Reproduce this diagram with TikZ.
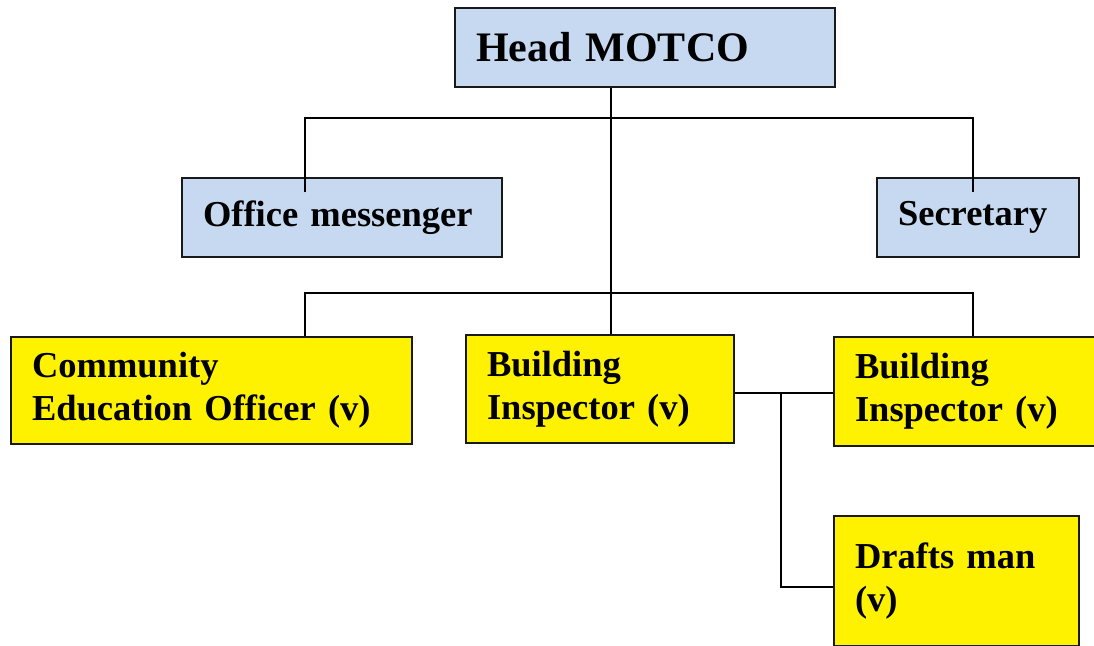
\documentclass[tikz,border=0pt]{standalone}
\usepackage{fontspec}
\setmainfont{Liberation Serif}
\definecolor{boxblue}{RGB}{198,217,240}
\begin{document}
\begin{tikzpicture}[x=1pt,y=-1pt,
    box/.style={draw=black!90, line width=1.5pt, align=left, inner xsep=21pt, inner ysep=0pt,
      font=\fontsize{36.5}{43}\selectfont\bfseries},
    bluebox/.style={box, fill=boxblue},
    yellowbox/.style={box, fill=yellow},
    link/.style={line width=1.5pt}]
  \useasboundingbox (0,0) rectangle (1094,645);
  \clip (0,0) rectangle (1094,645);
  % top and staff
  \node[bluebox, minimum width=380pt, minimum height=79pt, text width=338pt,
    font=\fontsize{42}{50}\selectfont\bfseries] (head) at (645,47.5) {Head MOTCO};
  \node[bluebox, minimum width=320pt, minimum height=79pt, text width=278pt] (messenger) at (342,217.5) {Office messenger};
  \node[bluebox, minimum width=202pt, minimum height=79pt, text width=160pt] (secretary) at (978,217.5) {Secretary};
  % officers
  \node[yellowbox, minimum width=401pt, minimum height=107pt, text width=359pt] (ceo) at (211.5,390.5) {Community\\Education Officer (v)};
  \node[yellowbox, minimum width=268pt, minimum height=108pt, text width=226pt] (inspA) at (600,389) {Building\\Inspector (v)};
  \node[yellowbox, minimum width=280pt, minimum height=109pt, text width=238pt] (inspB) at (974,391.5) {Building\\Inspector (v)};
  \node[yellowbox, minimum width=245pt, minimum height=130pt, text width=203pt] (drafts) at (956.5,581) {Drafts man\\(v)};
  % connectors
  \coordinate (trunk) at (611,0);
  \coordinate (upL) at (305,118);
  \coordinate (upR) at (973,118);
  \coordinate (loL) at (305,293);
  \coordinate (loR) at (973,293);
  \coordinate (split) at (781,393);
  \coordinate (dm) at (781,587);
  \draw[link] (head.south -| trunk) -- (inspA.north -| trunk);
  \draw[link] ([yshift=-15pt]messenger.north -| upL) -- (upL) -- (upR) -- ([yshift=-15pt]secretary.north -| upR);
  \draw[link] (ceo.north -| loL) -- (loL) -- (loR) -- (inspB.north -| loR);
  \draw[link] (inspA.east |- split) -- (inspB.west |- split);
  \draw[link] (split) -- (dm) -- (drafts.west |- dm);
\end{tikzpicture}
\end{document}
